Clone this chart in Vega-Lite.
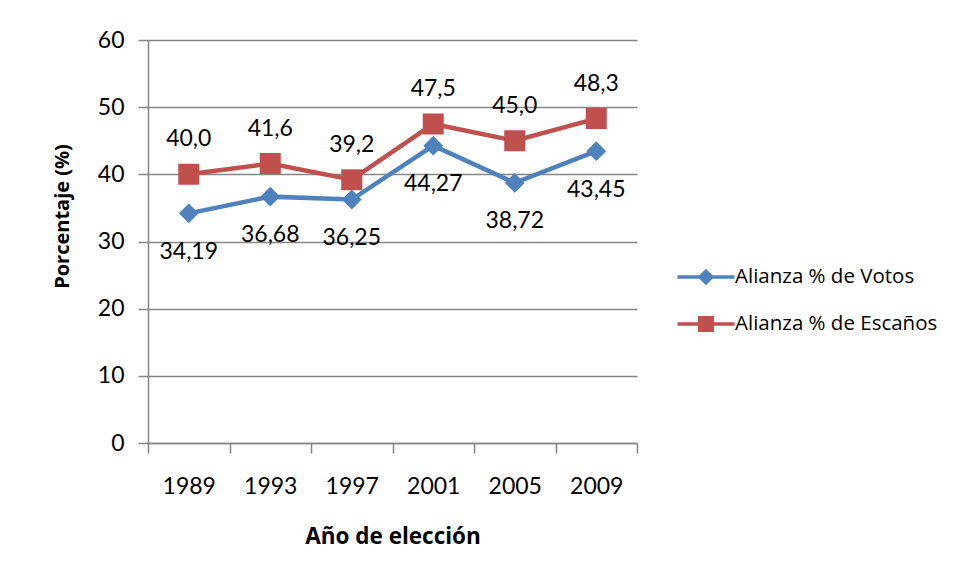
{
  "$schema": "https://vega.github.io/schema/vega-lite/v6.json",
  "width": 489,
  "height": 403,
  "autosize": "none",
  "padding": {"left": 148, "top": 40, "right": 328, "bottom": 138},
  "background": "white",
  "config": {
    "locale": {"number": {"decimal": ",", "thousands": ".", "grouping": [3], "currency": ["", ""]}},
    "font": "Lato",
    "view": {"stroke": null},
    "axis": {"labelColor": "#000000", "titleColor": "#000000", "labelFont": "Lato", "titleFont": "Open Sans"},
    "axisY": {
      "grid": true, "gridColor": "#868686", "gridWidth": 1.5,
      "tickSize": 10, "tickColor": "#868686", "tickWidth": 1.5,
      "domainColor": "#868686", "domainWidth": 1.5,
      "labelFontSize": 23, "labelPadding": 14,
      "titleFontSize": 20, "titleFontWeight": "bold",
      "titleX": -86, "titleY": 176, "titleAngle": -90, "titleAlign": "center", "titleBaseline": "middle"
    },
    "axisX": {
      "grid": false, "labelFontSize": 23, "titleFontSize": 22.5, "titleFontWeight": "bold"
    },
    "legend": {
      "labelFont": "Open Sans", "labelFontSize": 20.5, "labelColor": "#000000", "labelLimit": 0,
      "labelOffset": 9, "symbolSize": 1270, "symbolStrokeWidth": 3.5, "rowPadding": 14, "padding": 0
    }
  },
  "data": {
    "values": [
      {"anio": 1989, "serie": "Alianza % de Votos", "valor": 34.19},
      {"anio": 1993, "serie": "Alianza % de Votos", "valor": 36.68},
      {"anio": 1997, "serie": "Alianza % de Votos", "valor": 36.25},
      {"anio": 2001, "serie": "Alianza % de Votos", "valor": 44.27},
      {"anio": 2005, "serie": "Alianza % de Votos", "valor": 38.72},
      {"anio": 2009, "serie": "Alianza % de Votos", "valor": 43.45},
      {"anio": 1989, "serie": "Alianza % de Escaños", "valor": 40.0},
      {"anio": 1993, "serie": "Alianza % de Escaños", "valor": 41.6},
      {"anio": 1997, "serie": "Alianza % de Escaños", "valor": 39.2},
      {"anio": 2001, "serie": "Alianza % de Escaños", "valor": 47.5},
      {"anio": 2005, "serie": "Alianza % de Escaños", "valor": 45.0},
      {"anio": 2009, "serie": "Alianza % de Escaños", "valor": 48.3}
    ]
  },
  "resolve": {"axis": {"x": "independent"}},
  "layer": [
    {
      "mark": {"type": "line", "strokeWidth": 4.5},
      "encoding": {
        "x": {
          "field": "anio", "type": "quantitative",
          "scale": {"domain": [1987, 2011], "nice": false, "zero": false},
          "axis": {
            "orient": "bottom",
            "values": [1987, 1991, 1995, 1999, 2003, 2007, 2011],
            "labels": false, "ticks": true, "tickSize": 10, "tickColor": "#868686", "tickWidth": 1.5,
            "domainColor": "#868686", "domainWidth": 1.5, "grid": false, "title": null
          }
        },
        "y": {
          "field": "valor", "type": "quantitative",
          "scale": {"domain": [0, 60], "nice": false},
          "axis": {"values": [0, 10, 20, 30, 40, 50, 60], "title": "Porcentaje (%)"}
        },
        "color": {
          "field": "serie", "type": "nominal",
          "scale": {"domain": ["Alianza % de Escaños", "Alianza % de Votos"], "range": ["#C0504D", "#4F81BD"]},
          "legend": null
        }
      }
    },
    {
      "mark": {"type": "point", "filled": true, "size": 3600, "strokeWidth": 0, "opacity": 1},
      "encoding": {
        "x": {"field": "anio", "type": "quantitative", "axis": null},
        "y": {"field": "valor", "type": "quantitative"},
        "fill": {
          "field": "serie", "type": "nominal",
          "scale": {"domain": ["Alianza % de Votos", "Alianza % de Escaños"], "range": ["#4F81BD", "#C0504D"]},
          "legend": {
            "title": null, "orient": "none", "legendX": 538, "legendY": 217,
            "encode": {"symbols": {"update": {"strokeWidth": {"value": 3.5}}}}
          }
        },
        "stroke": {
          "field": "serie", "type": "nominal",
          "scale": {"domain": ["Alianza % de Votos", "Alianza % de Escaños"], "range": ["#4F81BD", "#C0504D"]},
          "legend": {
            "title": null, "orient": "none", "legendX": 538, "legendY": 217,
            "encode": {"symbols": {"update": {"strokeWidth": {"value": 3.5}}}}
          }
        },
        "shape": {
          "field": "serie", "type": "nominal",
          "scale": {
            "domain": ["Alianza % de Votos", "Alianza % de Escaños"],
            "range": ["M-1.6,0H1.6M0,-0.33L0.33,0L0,0.33L-0.33,0Z", "M-1.6,0H1.6M-0.35,-0.35H0.35V0.35H-0.35Z"]
          },
          "legend": {
            "title": null, "orient": "none", "legendX": 538, "legendY": 217,
            "encode": {"symbols": {"update": {"strokeWidth": {"value": 3.5}}}}
          }
        }
      }
    },
    {
      "transform": [{"filter": "datum.serie === 'Alianza % de Escaños'"}],
      "mark": {"type": "text", "dy": -35, "fontSize": 23, "font": "Lato", "color": "#000000", "baseline": "middle"},
      "encoding": {
        "x": {"field": "anio", "type": "quantitative", "axis": null},
        "y": {"field": "valor", "type": "quantitative"},
        "text": {"field": "valor", "type": "quantitative", "format": ".1f"}
      }
    },
    {
      "transform": [{"filter": "datum.serie === 'Alianza % de Votos'"}],
      "mark": {"type": "text", "dy": 38.5, "fontSize": 23, "font": "Lato", "color": "#000000", "baseline": "middle"},
      "encoding": {
        "x": {
          "field": "anio", "type": "quantitative",
          "axis": {
            "orient": "bottom",
            "values": [1989, 1993, 1997, 2001, 2005, 2009], "format": "d",
            "ticks": false, "tickSize": 0, "domain": false, "grid": false,
            "labelFontSize": 23, "labelBaseline": "middle", "labelPadding": 43,
            "title": "Año de elección", "titlePadding": 27
          }
        },
        "y": {"field": "valor", "type": "quantitative"},
        "text": {"field": "valor", "type": "quantitative", "format": ".2f"}
      }
    }
  ]
}
